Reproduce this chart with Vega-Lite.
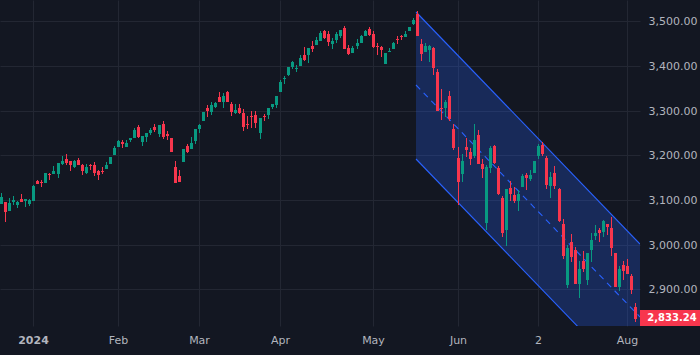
{
"$schema":"https://vega.github.io/schema/vega-lite/v6.json",
"width":640,"height":326,
"autosize":{"type":"none"},
"padding":{"left":0,"top":0,"right":60,"bottom":29},
"background":"#131722",
"config":{"view":{"stroke":null}},
"datasets":{
"channel":[{"day":94.85,"upper":3520.8,"middle":3356.5,"lower":3192.4},{"day":150.17,"upper":3000.8,"middle":2837,"lower":2673}],
"last":[{"day":149,"close":2833.24,"label":"2,833.24"}],
"candles":[
{"day":-8,"open":3091.0,"high":3115.6,"low":3091.0,"close":3106.7},
{"day":-7,"open":3095.5,"high":3095.5,"low":3050.7,"close":3073.1},
{"day":-6,"open":3075.4,"high":3104.5,"low":3075.4,"close":3093.3},
{"day":-5,"open":3095.5,"high":3108.9,"low":3088.8,"close":3100.0},
{"day":-4,"open":3088.8,"high":3097.7,"low":3082.1,"close":3095.5},
{"day":-3,"open":3102.2,"high":3113.4,"low":3095.5,"close":3095.5},
{"day":-2,"open":3097.7,"high":3102.2,"low":3084.3,"close":3102.2},
{"day":-1,"open":3091.0,"high":3102.2,"low":3086.5,"close":3100.0},
{"day":0,"open":3097.7,"high":3133.6,"low":3097.7,"close":3131.3},
{"day":1,"open":3142.5,"high":3144.8,"low":3135.8,"close":3135.8},
{"day":2,"open":3140.3,"high":3144.8,"low":3129.1,"close":3138.0},
{"day":3,"open":3138.0,"high":3160.4,"low":3138.0,"close":3160.4},
{"day":4,"open":3158.2,"high":3160.4,"low":3144.8,"close":3155.9},
{"day":5,"open":3158.2,"high":3176.1,"low":3158.2,"close":3164.9},
{"day":6,"open":3158.2,"high":3182.8,"low":3149.2,"close":3182.8},
{"day":7,"open":3180.6,"high":3198.5,"low":3178.3,"close":3187.3},
{"day":8,"open":3191.8,"high":3203.0,"low":3178.3,"close":3182.8},
{"day":9,"open":3187.3,"high":3187.3,"low":3164.9,"close":3178.3},
{"day":10,"open":3173.9,"high":3189.5,"low":3171.6,"close":3187.3},
{"day":11,"open":3189.5,"high":3194.0,"low":3178.3,"close":3178.3},
{"day":12,"open":3178.3,"high":3180.6,"low":3155.9,"close":3164.9},
{"day":13,"open":3160.4,"high":3180.6,"low":3158.2,"close":3173.9},
{"day":14,"open":3178.3,"high":3180.6,"low":3167.1,"close":3176.1},
{"day":15,"open":3178.3,"high":3185.0,"low":3153.7,"close":3160.4},
{"day":16,"open":3164.9,"high":3167.1,"low":3144.8,"close":3155.9},
{"day":17,"open":3164.9,"high":3173.9,"low":3158.2,"close":3162.7},
{"day":18,"open":3169.4,"high":3185.0,"low":3169.4,"close":3178.3},
{"day":19,"open":3180.6,"high":3196.2,"low":3180.6,"close":3196.2},
{"day":20,"open":3200.7,"high":3220.9,"low":3200.7,"close":3216.4},
{"day":21,"open":3218.6,"high":3234.3,"low":3218.6,"close":3232.1},
{"day":22,"open":3229.8,"high":3234.3,"low":3216.4,"close":3225.3},
{"day":23,"open":3218.6,"high":3234.3,"low":3218.6,"close":3227.6},
{"day":24,"open":3234.3,"high":3238.8,"low":3229.8,"close":3238.8},
{"day":25,"open":3238.8,"high":3261.2,"low":3238.8,"close":3256.7},
{"day":26,"open":3263.4,"high":3267.9,"low":3238.8,"close":3241.0},
{"day":27,"open":3229.8,"high":3243.3,"low":3220.9,"close":3243.3},
{"day":28,"open":3241.0,"high":3250.0,"low":3229.8,"close":3250.0},
{"day":29,"open":3250.0,"high":3261.2,"low":3245.5,"close":3256.7},
{"day":30,"open":3263.4,"high":3270.1,"low":3252.2,"close":3256.7},
{"day":31,"open":3247.7,"high":3267.9,"low":3241.0,"close":3267.9},
{"day":32,"open":3270.1,"high":3276.8,"low":3236.5,"close":3241.0},
{"day":33,"open":3247.7,"high":3254.4,"low":3234.3,"close":3243.3},
{"day":34,"open":3238.8,"high":3238.8,"low":3207.4,"close":3207.4},
{"day":35,"open":3173.9,"high":3187.3,"low":3138.0,"close":3138.0},
{"day":36,"open":3153.7,"high":3167.1,"low":3140.3,"close":3140.3},
{"day":37,"open":3185.0,"high":3214.2,"low":3185.0,"close":3214.2},
{"day":38,"open":3220.9,"high":3225.3,"low":3205.2,"close":3207.4},
{"day":39,"open":3214.2,"high":3241.0,"low":3214.2,"close":3227.6},
{"day":40,"open":3232.1,"high":3258.9,"low":3225.3,"close":3258.9},
{"day":41,"open":3258.9,"high":3270.1,"low":3250.0,"close":3267.9},
{"day":42,"open":3276.8,"high":3297.0,"low":3276.8,"close":3297.0},
{"day":43,"open":3305.9,"high":3312.6,"low":3285.8,"close":3299.2},
{"day":44,"open":3297.0,"high":3319.4,"low":3290.3,"close":3312.6},
{"day":45,"open":3308.2,"high":3319.4,"low":3305.9,"close":3317.1},
{"day":46,"open":3330.6,"high":3341.7,"low":3319.4,"close":3319.4},
{"day":47,"open":3319.4,"high":3339.5,"low":3305.9,"close":3332.8},
{"day":48,"open":3341.7,"high":3344.0,"low":3319.4,"close":3319.4},
{"day":49,"open":3314.9,"high":3319.4,"low":3288.0,"close":3297.0},
{"day":50,"open":3294.7,"high":3314.9,"low":3292.5,"close":3301.5},
{"day":51,"open":3305.9,"high":3314.9,"low":3292.5,"close":3294.7},
{"day":52,"open":3294.7,"high":3303.7,"low":3254.4,"close":3263.4},
{"day":53,"open":3270.1,"high":3288.0,"low":3258.9,"close":3267.9},
{"day":54,"open":3288.0,"high":3299.2,"low":3261.2,"close":3285.8},
{"day":55,"open":3290.3,"high":3299.2,"low":3261.2,"close":3272.4},
{"day":56,"open":3250.0,"high":3283.5,"low":3236.5,"close":3283.5},
{"day":57,"open":3288.0,"high":3292.5,"low":3276.8,"close":3285.8},
{"day":58,"open":3290.3,"high":3305.9,"low":3281.3,"close":3305.9},
{"day":59,"open":3308.2,"high":3314.9,"low":3303.7,"close":3314.9},
{"day":60,"open":3312.6,"high":3332.8,"low":3305.9,"close":3332.8},
{"day":61,"open":3341.7,"high":3368.6,"low":3341.7,"close":3364.1},
{"day":62,"open":3370.8,"high":3377.6,"low":3359.7,"close":3373.1},
{"day":63,"open":3379.8,"high":3397.7,"low":3377.6,"close":3397.7},
{"day":64,"open":3397.7,"high":3411.1,"low":3393.2,"close":3408.9},
{"day":65,"open":3393.2,"high":3402.2,"low":3386.5,"close":3395.5},
{"day":66,"open":3399.9,"high":3424.6,"low":3399.9,"close":3417.9},
{"day":67,"open":3424.6,"high":3442.5,"low":3411.1,"close":3413.4},
{"day":68,"open":3424.6,"high":3440.2,"low":3406.7,"close":3440.2},
{"day":69,"open":3444.7,"high":3455.9,"low":3431.3,"close":3438.0},
{"day":70,"open":3447.0,"high":3464.9,"low":3447.0,"close":3458.2},
{"day":71,"open":3455.9,"high":3478.3,"low":3455.9,"close":3473.8},
{"day":72,"open":3478.3,"high":3480.5,"low":3460.4,"close":3462.6},
{"day":73,"open":3471.6,"high":3478.3,"low":3444.7,"close":3453.7},
{"day":74,"open":3449.2,"high":3462.6,"low":3438.0,"close":3455.9},
{"day":75,"open":3458.2,"high":3476.1,"low":3451.4,"close":3471.6},
{"day":76,"open":3467.1,"high":3480.5,"low":3462.6,"close":3480.5},
{"day":77,"open":3485.0,"high":3489.5,"low":3438.0,"close":3438.0},
{"day":78,"open":3440.2,"high":3447.0,"low":3424.6,"close":3426.8},
{"day":79,"open":3429.1,"high":3444.7,"low":3429.1,"close":3440.2},
{"day":80,"open":3444.7,"high":3460.4,"low":3438.0,"close":3451.4},
{"day":81,"open":3451.4,"high":3469.4,"low":3451.4,"close":3467.1},
{"day":82,"open":3467.1,"high":3480.5,"low":3467.1,"close":3478.3},
{"day":83,"open":3482.8,"high":3487.3,"low":3467.1,"close":3469.4},
{"day":84,"open":3471.6,"high":3478.3,"low":3440.2,"close":3442.5},
{"day":85,"open":3444.7,"high":3451.4,"low":3424.6,"close":3442.5},
{"day":86,"open":3442.5,"high":3444.7,"low":3420.1,"close":3435.8},
{"day":87,"open":3404.4,"high":3429.1,"low":3404.4,"close":3429.1},
{"day":88,"open":3431.3,"high":3440.2,"low":3431.3,"close":3433.5},
{"day":89,"open":3438.0,"high":3453.7,"low":3438.0,"close":3451.4},
{"day":90,"open":3460.4,"high":3467.1,"low":3449.2,"close":3458.2},
{"day":91,"open":3467.1,"high":3469.4,"low":3458.2,"close":3464.9},
{"day":92,"open":3464.9,"high":3478.3,"low":3464.9,"close":3471.6},
{"day":93,"open":3478.3,"high":3487.3,"low":3478.3,"close":3487.3},
{"day":94,"open":3494.0,"high":3507.4,"low":3491.7,"close":3502.9},
{"day":95,"open":3516.4,"high":3523.1,"low":3467.1,"close":3467.1},
{"day":96,"open":3449.2,"high":3460.4,"low":3411.1,"close":3426.8},
{"day":97,"open":3431.3,"high":3451.4,"low":3431.3,"close":3444.7},
{"day":98,"open":3435.8,"high":3447.0,"low":3408.9,"close":3444.7},
{"day":99,"open":3440.2,"high":3442.5,"low":3379.8,"close":3395.5},
{"day":100,"open":3386.5,"high":3393.2,"low":3299.2,"close":3299.2},
{"day":101,"open":3305.9,"high":3348.5,"low":3279.1,"close":3303.7},
{"day":102,"open":3305.9,"high":3323.8,"low":3285.8,"close":3319.4},
{"day":103,"open":3332.8,"high":3344.0,"low":3276.8,"close":3281.3},
{"day":104,"open":3258.9,"high":3270.1,"low":3211.9,"close":3216.4},
{"day":105,"open":3194.0,"high":3218.6,"low":3088.8,"close":3140.3},
{"day":106,"open":3158.2,"high":3203.0,"low":3140.3,"close":3187.3},
{"day":107,"open":3218.6,"high":3238.8,"low":3196.2,"close":3211.9},
{"day":108,"open":3207.4,"high":3216.4,"low":3178.3,"close":3191.8},
{"day":109,"open":3198.5,"high":3270.1,"low":3194.0,"close":3234.3},
{"day":110,"open":3245.5,"high":3256.7,"low":3180.6,"close":3180.6},
{"day":111,"open":3180.6,"high":3191.8,"low":3149.2,"close":3169.4},
{"day":112,"open":3048.5,"high":3178.3,"low":3032.8,"close":3173.9},
{"day":113,"open":3171.6,"high":3220.9,"low":3160.4,"close":3216.4},
{"day":114,"open":3220.9,"high":3223.1,"low":3180.6,"close":3182.8},
{"day":115,"open":3171.6,"high":3176.1,"low":3111.2,"close":3113.4},
{"day":116,"open":3104.5,"high":3108.9,"low":3017.2,"close":3026.1},
{"day":117,"open":3032.8,"high":3124.6,"low":2997.0,"close":3124.6},
{"day":118,"open":3126.8,"high":3142.5,"low":3097.7,"close":3113.4},
{"day":119,"open":3111.2,"high":3129.1,"low":3093.3,"close":3097.7},
{"day":120,"open":3097.7,"high":3122.4,"low":3075.4,"close":3113.4},
{"day":121,"open":3129.1,"high":3158.2,"low":3129.1,"close":3153.7},
{"day":122,"open":3155.9,"high":3160.4,"low":3122.4,"close":3149.2},
{"day":123,"open":3147.0,"high":3167.1,"low":3142.5,"close":3155.9},
{"day":124,"open":3160.4,"high":3187.3,"low":3160.4,"close":3187.3},
{"day":125,"open":3198.5,"high":3225.3,"low":3191.8,"close":3220.9},
{"day":126,"open":3223.1,"high":3229.8,"low":3198.5,"close":3203.0},
{"day":127,"open":3194.0,"high":3198.5,"low":3124.6,"close":3133.6},
{"day":128,"open":3131.3,"high":3162.7,"low":3104.5,"close":3151.5},
{"day":129,"open":3160.4,"high":3176.1,"low":3124.6,"close":3131.3},
{"day":130,"open":3124.6,"high":3126.8,"low":3050.7,"close":3053.0},
{"day":131,"open":3046.3,"high":3057.4,"low":2967.9,"close":2974.6},
{"day":132,"open":2909.7,"high":2999.2,"low":2903.0,"close":2992.5},
{"day":133,"open":3006.0,"high":3023.9,"low":2961.2,"close":2972.4},
{"day":134,"open":2988.1,"high":2994.8,"low":2911.9,"close":2911.9},
{"day":135,"open":2911.9,"high":2963.4,"low":2880.6,"close":2945.5},
{"day":136,"open":2963.4,"high":2985.8,"low":2938.8,"close":2945.5},
{"day":137,"open":2920.9,"high":2981.3,"low":2909.7,"close":2981.3},
{"day":138,"open":2988.1,"high":3026.1,"low":2961.2,"close":3010.4},
{"day":139,"open":3019.4,"high":3044.0,"low":3010.4,"close":3026.1},
{"day":140,"open":3032.8,"high":3037.3,"low":3006.0,"close":3026.1},
{"day":141,"open":3028.3,"high":3055.2,"low":3017.2,"close":3053.0},
{"day":142,"open":3046.3,"high":3046.3,"low":3021.6,"close":3039.5},
{"day":143,"open":3037.3,"high":3061.9,"low":2974.6,"close":2992.5},
{"day":144,"open":2981.3,"high":2981.3,"low":2905.2,"close":2905.2},
{"day":145,"open":2905.2,"high":2952.2,"low":2896.3,"close":2945.5},
{"day":146,"open":2954.5,"high":2963.4,"low":2920.9,"close":2941.0},
{"day":147,"open":2952.2,"high":2967.9,"low":2934.3,"close":2934.3},
{"day":148,"open":2929.9,"high":2934.3,"low":2889.6,"close":2898.5},
{"day":149,"open":2860.4,"high":2869.4,"low":2826.9,"close":2833.24}
]},
"encoding":{
"x":{"field":"day","type":"quantitative","title":null,
 "scale":{"domain":[-8.24,150.17],"nice":false,"zero":false,"round":true,"padding":0},
 "axis":{"values":[0,21,41,61,84,105,125,147],"grid":true,"gridColor":"#232733","gridWidth":1,"domain":false,"ticks":false,"labelColor":"#b2b5be","labelFont":"DejaVu Sans","labelFontSize":11,"labelPadding":8,"labelOverlap":false,"labelBound":false,"labelFlush":false,
 "labelFontWeight":{"expr":"datum.value==0?'bold':'normal'"},
 "labelExpr":"datum.value==0?'2024':datum.value==21?'Feb':datum.value==41?'Mar':datum.value==61?'Apr':datum.value==84?'May':datum.value==105?'Jun':datum.value==125?'2':'Aug'"}}
},
"layer":[
{"data":{"name":"channel"},"mark":{"type":"area","color":"#2962ff","opacity":0.25,"clip":true},
 "encoding":{"y":{"field":"upper","type":"quantitative","title":null,
   "scale":{"domain":[2817.9,3547.7],"nice":false,"zero":false,"round":true},
   "axis":{"orient":"right","values":[2900,3000,3100,3200,3300,3400,3500],"format":",.2f","grid":true,"gridColor":"#232733","gridWidth":1,"domain":false,"ticks":false,"labelColor":"#b2b5be","labelFont":"DejaVu Sans","labelFontSize":11,"labelPadding":8,"labelOverlap":false,"labelBound":false,"labelFlush":false}},
  "y2":{"field":"lower"}}},
{"data":{"name":"channel"},"mark":{"type":"line","color":"#2962ff","strokeWidth":1.1,"clip":true},"encoding":{"y":{"field":"upper","type":"quantitative","title":null}}},
{"data":{"name":"channel"},"mark":{"type":"line","color":"#2962ff","strokeWidth":1.1,"clip":true},"encoding":{"y":{"field":"lower","type":"quantitative","title":null}}},
{"data":{"name":"channel"},"mark":{"type":"line","color":"#2962ff","strokeWidth":1.1,"strokeDash":[6,5],"clip":true},"encoding":{"y":{"field":"middle","type":"quantitative","title":null}}},
{"data":{"name":"candles"},"mark":{"type":"rule","strokeWidth":1,"xOffset":0.5,"clip":true},
 "encoding":{"y":{"field":"high","type":"quantitative","title":null},"y2":{"field":"low"},
  "color":{"condition":{"test":"datum.close<datum.open","value":"#f7364d"},"value":"#089981"}}},
{"data":{"name":"candles"},"mark":{"type":"bar","size":3,"xOffset":0.5,"clip":true},
 "encoding":{"y":{"field":"open","type":"quantitative","title":null},"y2":{"field":"close"},
  "color":{"condition":{"test":"datum.close<datum.open","value":"#f7364d"},"value":"#089981"}}},
{"data":{"name":"last"},"mark":{"type":"rect","color":"#f7364d","width":60,"height":16,"yOffset":-1},
 "encoding":{"x":{"datum":157.6,"type":"quantitative"},"y":{"field":"close","type":"quantitative","title":null}}},
{"data":{"name":"last"},"mark":{"type":"text","color":"#ffffff","font":"DejaVu Sans","fontSize":10,"fontWeight":"bold","align":"center","baseline":"middle","yOffset":-1},
 "encoding":{"x":{"datum":158,"type":"quantitative"},"y":{"field":"close","type":"quantitative","title":null},"text":{"field":"label"}}},
{"data":{"values":[{"icon":"settings"}]},"mark":{"type":"point","shape":"M-0.5,0L-0.25,-0.433L0.25,-0.433L0.5,0L0.25,0.433L-0.25,0.433Z","size":225,"filled":false,"stroke":"#b2b5be","strokeWidth":1.2},
 "encoding":{"x":{"datum":158.4,"type":"quantitative"},"y":{"datum":2788.1,"type":"quantitative","title":null}}},
{"data":{"values":[{"icon":"settings"}]},"mark":{"type":"point","shape":"circle","size":16,"filled":false,"stroke":"#b2b5be","strokeWidth":1.2},
 "encoding":{"x":{"datum":158.4,"type":"quantitative"},"y":{"datum":2788.1,"type":"quantitative","title":null}}}
]
}
